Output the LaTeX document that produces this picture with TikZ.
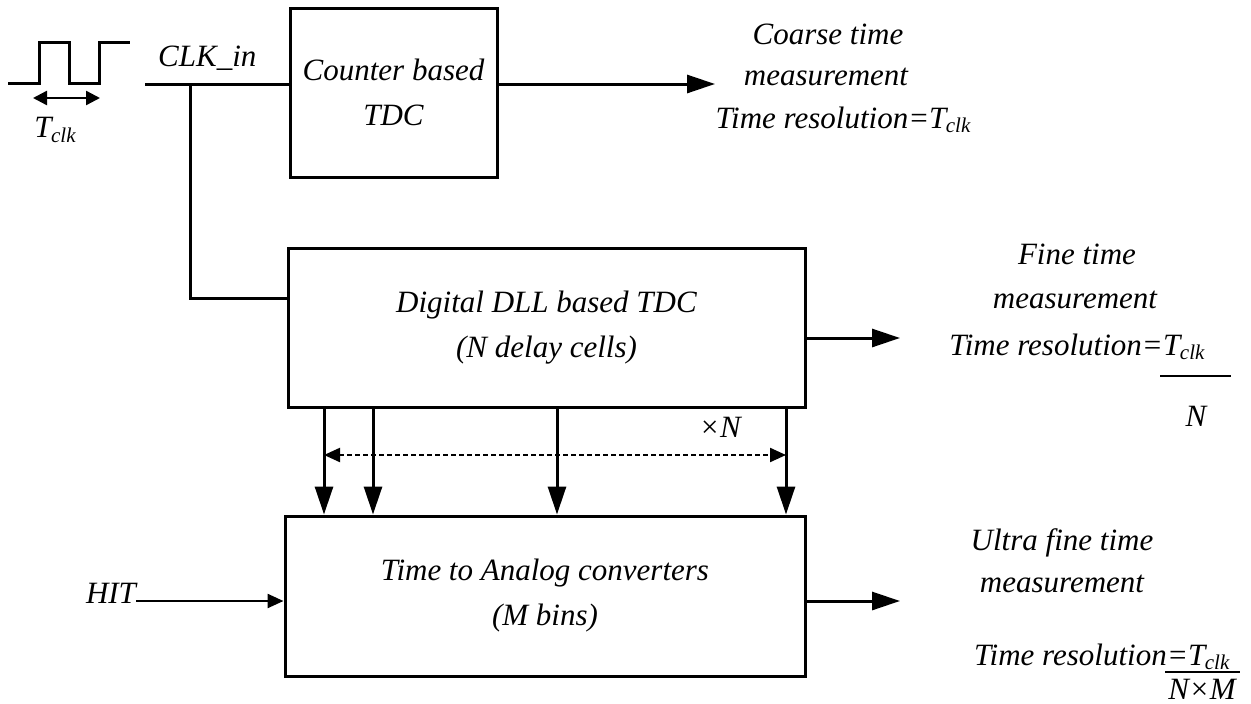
\documentclass[tikz,border=0pt]{standalone}
\usepackage{fontspec}
\setmainfont{Liberation Serif}
\usetikzlibrary{arrows.meta,calc}
\newcommand\Tck{\textit{T\kern-0.5pt\raisebox{-0.3ex}{\fontsize{21}{21}\selectfont clk}}}
\tikzset{
  blk/.style={draw,line width=3pt,rectangle,inner sep=0pt,align=center,font=\fontsize{31}{45}\selectfont\itshape},
  wire/.style={line width=3pt},
  arr/.style={line width=3pt,-{Triangle[length=28pt,width=18pt]}},
  lbl/.style={align=center,inner sep=0pt,font=\fontsize{31}{41}\selectfont\itshape},
  dotarr/.style={line width=2.2pt,dash pattern=on 5pt off 3pt,{Triangle[length=16pt,width=14pt]}-{Triangle[length=16pt,width=14pt]}},
  tick/.style={line width=2.4pt,{Triangle[length=14pt,width=14pt]}-{Triangle[length=14pt,width=14pt]}}
}
\begin{document}
\begin{tikzpicture}[x=1pt,y=-1pt]
\useasboundingbox (0,0) rectangle (1251,704);
% blocks
\node[blk,minimum width=207pt,minimum height=169pt] (cnt) at (393.5,92.5) {Counter based\\TDC};
\node[blk,minimum width=517pt,minimum height=159pt] (dll) at (546.5,327.5) {Digital DLL based TDC\\(N delay cells)};
\node[blk,minimum width=520pt,minimum height=160pt] (tac) at (545,596) {Time to Analog converters\\(M bins)};
% clock waveform
\coordinate (w0) at (8,83);
\draw[wire,line join=miter] (w0) -- (39,83) -- (39,42) -- (69,42) -- (69,83) -- (99,83) -- (99,42) -- (130,42);
\coordinate (ta) at (33,98);
\coordinate (tb) at (100,98);
\draw[tick] (ta) -- (tb);
\node[lbl] (tclk) at (55,130) {\Tck};
% clk in
\coordinate (clkstart) at (145,84);
\coordinate (br) at (190,84);
\coordinate (dllin) at (288,298);
\node[lbl,anchor=base west] (clklbl) at (158,66) {CLK\_in};
\draw[wire] (clkstart) -- (clkstart -| cnt.west);
\draw[wire] (br) |- (dllin);
% outputs
\coordinate (o1) at (715,84);
\coordinate (o2) at (900,338);
\coordinate (o3) at (900,601);
\draw[arr] (cnt.east |- o1) -- (o1);
\draw[arr] (dll.east |- o2) -- (o2);
\draw[arr] (tac.east |- o3) -- (o3);
% output labels
\node[lbl,anchor=base] (c1) at (828,44) {Coarse time};
\node[lbl,anchor=base] (c2) at (826,85) {measurement};
\node[lbl,anchor=base] (c3) at (843,128) {Time resolution=\Tck};
\node[lbl,anchor=base] (f1) at (1077,264) {Fine time};
\node[lbl,anchor=base] (f2) at (1075,308) {measurement};
\node[lbl,anchor=base east] (f3) at (1163,355) {Time resolution=};
\node[lbl,anchor=base west] (f3n) at (1163,355) {\Tck};
\coordinate (fl1) at (1160,376);
\coordinate (fl2) at (1231,376);
\draw[line width=2.2pt] (fl1) -- (fl2);
\node[lbl,anchor=base] (f4) at (1196,426) {N};
\node[lbl,anchor=base] (u1) at (1062,550) {Ultra fine time};
\node[lbl,anchor=base] (u2) at (1062,592) {measurement};
\node[lbl,anchor=base east] (u3) at (1167,665) {Time resolution};
\node[lbl,anchor=base west] (u3n) at (1167,665) {=\Tck};
\coordinate (ul1) at (1165,672);
\coordinate (ul2) at (1240,672);
\draw[line width=2.2pt] (ul1) -- (ul2);
\node[lbl,anchor=base] (u4) at (1202,699) {N×M};
% HIT
\node[lbl,anchor=base] (hit) at (111,603) {HIT};
\draw[line width=2.4pt,-{Triangle[length=16pt,width=14pt]}] (hit.east |- 0,601) -- (tac.west |- 0,601);
% vertical arrows
\foreach \x in {324,373,557,786} \draw[arr] (dll.south -| \x,0) -- (tac.north -| \x,0);
\coordinate (d1) at (324,455);
\coordinate (d2) at (786,455);
\draw[dotarr] (d1) -- (d2);
\node[lbl,anchor=base] (xn) at (720,437) {×N};
\end{tikzpicture}
\end{document}
